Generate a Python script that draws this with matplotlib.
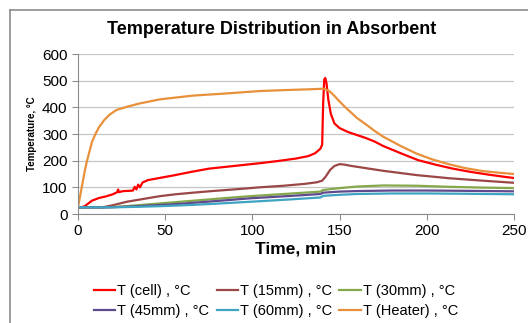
import matplotlib
matplotlib.use("Agg")
import matplotlib.pyplot as plt
from matplotlib.lines import Line2D

plt.rcParams["font.family"] = ["Liberation Sans", "DejaVu Sans"]

# time (min) / temperature (°C) per thermocouple
t_cell = [0, 2, 4, 8, 12, 16, 20, 22.5, 23, 23.5, 26, 30, 31.5, 32.5, 33.5, 34.5, 35.5, 37, 40,
          45, 55, 65, 75, 85, 95, 105, 115, 125, 132, 136, 139, 140, 140.6, 141.2, 141.8, 142.5,
          143.5, 145, 147, 150, 155, 160, 165, 170, 175, 185, 195, 205, 215, 225, 235, 245, 250]
T_cell = [25, 25, 30, 50, 60, 66, 74, 82, 92, 82, 86, 87, 88, 102, 92, 110, 100, 118, 127,
          133, 145, 158, 170, 177, 184, 191, 199, 208, 217, 228, 245, 260, 420, 505, 510, 490,
          430, 375, 340, 322, 307, 296, 285, 272, 255, 228, 202, 185, 170, 158, 148, 139, 135]

t_15 = [0, 14, 20, 28, 38, 47, 56, 66, 75, 85, 95, 104, 118, 130, 137, 140, 142, 144.5, 147,
        150, 153, 156, 165, 175, 194, 213, 232, 250]
T_15 = [25, 25, 33, 46, 57, 67, 74, 80, 85, 90, 95, 100, 106, 113, 119, 125, 140, 165, 180,
        187, 185, 181, 172, 162, 146, 134, 125, 117]

t_30 = [0, 15, 25, 40, 55, 70, 85, 99, 118, 139, 140.5, 150, 160, 175, 194, 213, 232, 250]
T_30 = [25, 25, 28, 36, 44, 52, 60, 67, 75, 84, 90, 97, 103, 107, 106, 102, 99, 97]

t_45 = [0, 18, 30, 45, 60, 80, 99, 120, 139, 140.5, 150, 160, 180, 200, 220, 250]
T_45 = [25, 25, 28, 33, 39, 49, 59, 67, 75, 80, 84, 86, 88, 88, 87, 85]

t_60 = [0, 20, 35, 50, 65, 80, 99, 120, 139, 140.5, 150, 160, 180, 200, 220, 250]
T_60 = [25, 25, 27, 30, 34, 39, 46, 54, 62, 68, 72, 75, 77, 77, 76, 74]

t_heat = [0, 1, 2, 3, 4, 5, 6, 8, 10, 12, 15, 18, 22, 28, 35, 47, 66, 85, 104, 120, 130, 138,
          141, 142.5, 144.5, 147, 150, 153, 156, 160, 165.5, 170, 175, 185, 194, 203, 213,
          222, 232, 241, 250]
T_heat = [25, 60, 95, 130, 165, 195, 220, 270, 300, 325, 352, 372, 390, 402, 414, 430, 444,
          452, 461, 465, 467, 469, 470, 466, 459, 443, 422, 402, 384, 360, 334, 312, 290, 255,
          227, 205, 186, 172, 161, 155, 150]

series = [
    ("T (cell) , °C", t_cell, T_cell, "#FF0000"),
    ("T (15mm) , °C", t_15, T_15, "#9A4746"),
    ("T (30mm) , °C", t_30, T_30, "#84A84A"),
    ("T (45mm) , °C", t_45, T_45, "#5E4A8C"),
    ("T (60mm) , °C", t_60, T_60, "#3FA3C2"),
    ("T (Heater) , °C", t_heat, T_heat, "#E8903A"),
]

fig = plt.figure(figsize=(5.28, 3.23), dpi=100)
ax = fig.add_axes([78 / 528, 1 - 214 / 323, 436 / 528, 160 / 323])

lines = []
for label, t, T, color in series:
    lines += ax.plot(t, T, color=color, lw=1.6, label=label)

ax.set_xlim(0, 250)
ax.set_ylim(0, 600)
ax.set_xticks(range(0, 251, 50))
ax.set_yticks(range(0, 601, 100))
ax.grid(axis="y", color="#C6C6C6", lw=0.9)
ax.set_axisbelow(True)
for side in ("top", "right"):
    ax.spines[side].set_visible(False)
for side in ("left", "bottom"):
    ax.spines[side].set_color("#8C8C8C")
    ax.spines[side].set_linewidth(0.8)
ax.tick_params(colors="#8C8C8C", labelcolor="black", labelsize=11, length=4, width=0.8)

ax.set_xlabel("Time, min", fontsize=12.5, fontweight="bold", labelpad=2)
ax.set_ylabel("Temperature, °C", fontsize=7, fontweight="bold", labelpad=4)

fig.text(272 / 528, 1 - 30 / 323, "Temperature Distribution in Absorbent",
         ha="center", va="center", fontsize=13, fontweight="bold")

# legend fills column by column, so interleave to read row by row
order = [0, 3, 1, 4, 2, 5]
fig.legend([lines[i] for i in order], [series[i][0] for i in order],
           loc="center", bbox_to_anchor=(276 / 528, 1 - 301 / 323), ncol=3,
           frameon=False, fontsize=10.5, handlelength=1.45, handletextpad=0.15,
           columnspacing=0.5, labelspacing=0.37, borderpad=0)

# chart-area frame
fig.add_artist(Line2D([10 / 528, 1.0], [1 - 10 / 323] * 2, color="#8C8C8C", lw=1.2))
fig.add_artist(Line2D([10 / 528] * 2, [0, 1 - 10 / 323], color="#8C8C8C", lw=1.2))

fig.savefig("out.png", dpi=100)
